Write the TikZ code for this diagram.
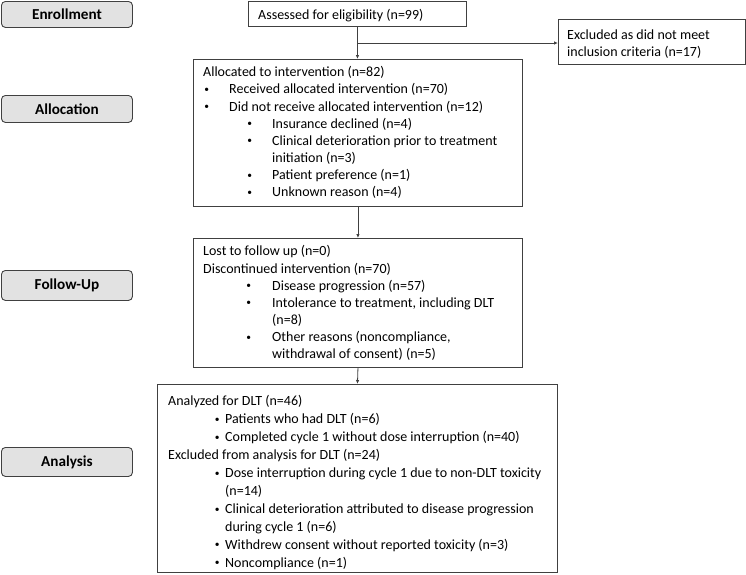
\documentclass[tikz,border=0pt]{standalone}
\usepackage{fontspec}
\setmainfont{Carlito}
\usetikzlibrary{arrows.meta,calc}
\definecolor{linec}{RGB}{64,64,64}
\definecolor{labfill}{RGB}{226,226,226}
\newcommand\mybul{\hspace*{1.2pt}\raisebox{1.3pt}{\fontsize{9.5}{9.5}\selectfont\textbullet}}
\newcommand\myitem[3]{\hspace*{#1}\makebox[#2][l]{\mybul}#3}
\begin{document}
\begin{tikzpicture}[x=1pt,y=-1pt,
  box/.style={draw=linec, line width=0.9pt, anchor=north west, inner sep=0pt},
  lab/.style={draw=linec, line width=0.9pt, fill=labfill, rounded corners=4pt, anchor=north west, inner sep=0pt, font=\fontsize{15.2}{18}\selectfont\bfseries},
  txt/.style={anchor=base west, inner sep=0pt, align=left, font=\fontsize{14}{17.1}\selectfont},
  arr/.style={draw=linec, line width=0.8pt, -{Latex[length=4pt,width=3.5pt]}}]
\useasboundingbox (0,0) rectangle (746,574);
% stage labels
\node[lab, minimum width=131pt, minimum height=26pt] (enr) at (1,1) {Enrollment};
\node[lab, minimum width=131pt, minimum height=27pt] (allocl) at (1,95) {Allocation};
\node[lab, minimum width=131pt, minimum height=30pt] (ful) at (1,270) {Follow-Up};
\node[lab, minimum width=131pt, minimum height=29pt] (anal) at (1,447) {Analysis};
% boxes
\node[box, minimum width=218pt, minimum height=25pt] (assess) at (248,1) {};
\node[box, minimum width=187pt, minimum height=45pt] (excl) at (558,19) {};
\node[box, minimum width=329pt, minimum height=147pt] (alloc) at (193,59) {};
\node[box, minimum width=329pt, minimum height=129pt] (fu) at (193,238) {};
\node[box, minimum width=400pt, minimum height=188pt] (ana) at (157,384) {};
% texts (base anchor = baseline of the last line)
\node[txt] (assesst) at (258,19) {Assessed for eligibility (n=99)};
\node[txt] (exclt) at (567,56.5) {Excluded as did not meet\\inclusion criteria (n=17)};
\node[txt] (alloct) at (203,196.5) {Allocated to intervention (n=82)\\
\myitem{0pt}{26pt}{Received allocated intervention (n=70)}\\
\myitem{0pt}{26pt}{Did not receive allocated intervention (n=12)}\\
\myitem{43pt}{26pt}{Insurance declined (n=4)}\\
\myitem{43pt}{26pt}{Clinical deterioration prior to treatment}\\
\hspace*{69pt}initiation (n=3)\\
\myitem{43pt}{26pt}{Patient preference (n=1)}\\
\myitem{43pt}{26pt}{Unknown reason (n=4)}};
\node[txt] (fut) at (203,358.5) {Lost to follow up (n=0)\\
Discontinued intervention (n=70)\\
\myitem{42pt}{27pt}{Disease progression (n=57)}\\
\myitem{42pt}{27pt}{Intolerance to treatment, including DLT}\\
\hspace*{69pt}(n=8)\\
\myitem{42pt}{27pt}{Other reasons (noncompliance,}\\
\hspace*{69pt}withdrawal of consent) (n=5)};
\node[txt, font=\fontsize{14}{17.9}\selectfont] (anat) at (168,567) {Analyzed for DLT (n=46)\\
\myitem{45.5pt}{11.5pt}{Patients who had DLT (n=6)}\\
\myitem{45.5pt}{11.5pt}{Completed cycle 1 without dose interruption (n=40)}\\
Excluded from analysis for DLT (n=24)\\
\myitem{45.5pt}{11.5pt}{Dose interruption during cycle 1 due to non-DLT toxicity}\\
\hspace*{57pt}(n=14)\\
\myitem{45.5pt}{11.5pt}{Clinical deterioration attributed to disease progression}\\
\hspace*{57pt}during cycle 1 (n=6)\\
\myitem{45.5pt}{11.5pt}{Withdrew consent without reported toxicity (n=3)}\\
\myitem{45.5pt}{11.5pt}{Noncompliance (n=1)}};
% connectors
\coordinate (br) at (357,43);
\draw[arr] (assess.south) -- (assess.south |- alloc.north);
\draw[arr] (br) -- (br -| excl.west);
\draw[arr] (alloc.south) -- (fu.north);
\draw[arr] (fu.south) -- (ana.north);
\end{tikzpicture}
\end{document}
